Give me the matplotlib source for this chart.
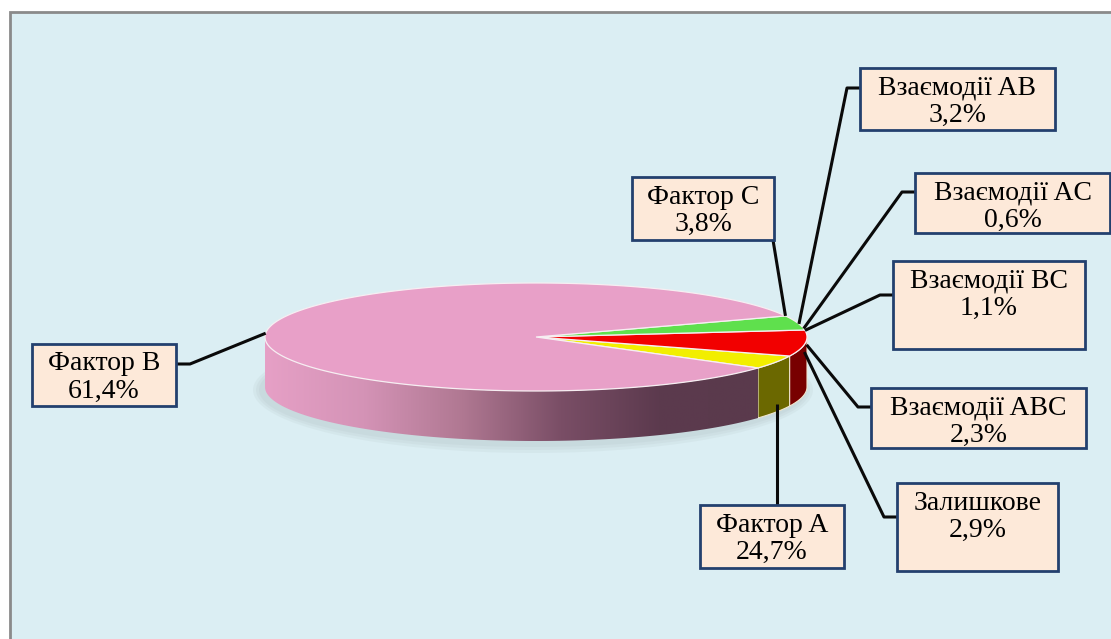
import numpy as np
import matplotlib.pyplot as plt
from matplotlib.patches import Polygon, Rectangle, Ellipse
from matplotlib.colors import LinearSegmentedColormap

# values written in the label boxes
names = ['Фактор A', 'Фактор B', 'Фактор C', 'Взаємодії AB', 'Взаємодії AC',
         'Взаємодії BC', 'Взаємодії ABC', 'Залишкове']
values = [24.7, 61.4, 3.8, 3.2, 0.6, 1.1, 2.3, 2.9]

# the pie as it is actually drawn (shares, counter-clockwise)
slice_share = [4.0, 7.8, 4.3, 83.9]
slice_top = ['#f2ee00', '#f20000', '#5fe04d', '#e8a0c8']
slice_side = ['#6b6800', '#780000', '#2f8a2a', None]   # None -> gradient
start_angle = -35

# pie geometry in pixels
cx, cy, a, b, depth = 536, 337, 271, 54, 50


def rim(t, drop=0.0):
    t = np.radians(t)
    return cx + a * np.cos(t), cy - b * np.sin(t) + drop * depth


fig = plt.figure(figsize=(11.11, 6.39), dpi=100)
ax = fig.add_axes([0, 0, 1, 1])
ax.set_xlim(0, 1111)
ax.set_ylim(639, 0)
ax.axis('off')

# chart area
ax.add_patch(Rectangle((10, 12), 1120, 650, fc='#dbeef3', ec='#8a8a8a', lw=2, zorder=0))

# soft shadow
for k in range(3):
    ax.add_patch(Ellipse((cx - 3, cy + depth + 3), 2 * a + 6 + 6 * k, 2 * b + 6 + 6 * k,
                         fc='#8c9699', ec='none', alpha=0.08, zorder=1))

bounds = start_angle + np.concatenate([[0], np.cumsum(slice_share)]) * 3.6

pink_cmap = LinearSegmentedColormap.from_list(
    'pk', ['#e6a0c6', '#d493b6', '#b07892', '#7a4e66', '#5c3a4e', '#5a3a4c'])

# side walls (front half only)
for i in range(len(slice_share)):
    t1, t2 = bounds[i], bounds[i + 1]
    for k in (0, 360):
        lo, hi = max(t1, -180 + k), min(t2, k)
        if hi <= lo:
            continue
        ts = np.linspace(lo, hi, 120)
        xt, yt = rim(ts)
        xb, yb = rim(ts[::-1], 1.0)
        pts = np.column_stack([np.concatenate([xt, xb]), np.concatenate([yt, yb])])
        if slice_side[i] is None:
            poly = Polygon(pts, closed=True, fc='none', ec='none', zorder=2)
            ax.add_patch(poly)
            grad = np.linspace(0, 1, 256).reshape(1, -1)
            x_left, x_right = cx - a, rim(hi)[0]
            im = ax.imshow(grad, extent=(x_left, x_right, cy + b + depth + 5, cy - b),
                           cmap=pink_cmap, aspect='auto', zorder=2)
            im.set_clip_path(poly)
        else:
            ax.add_patch(Polygon(pts, closed=True, fc=slice_side[i], ec='#f0e6d0',
                                 lw=0.8, zorder=2))

# top faces
for i in range(len(slice_share)):
    ts = np.linspace(bounds[i], bounds[i + 1], 200)
    xt, yt = rim(ts)
    pts = np.column_stack([np.concatenate([[cx], xt]), np.concatenate([[cy], yt])])
    ax.add_patch(Polygon(pts, closed=True, fc=slice_top[i], ec='#f7eef2', lw=0.9, zorder=3))

# label boxes: (x0, y0, x1, y1), connection kind, elbow coordinate, anchor (angle, drop)
layout = {
    'Фактор A': ((700, 505, 844, 568), 'top', None, (-27, 0.85)),
    'Фактор B': ((32, 344, 176, 406), 'right', 364, (176, 0.0)),
    'Фактор C': ((632, 177, 774, 240), 'corner', None, (23, 0.0)),
    'Взаємодії AB': ((860, 68, 1055, 130), 'left', 88, (14, 0.0)),
    'Взаємодії AC': ((915, 173, 1110, 233), 'left', 192, (9, 0.0)),
    'Взаємодії BC': ((893, 261, 1085, 349), 'left', 295, (7, 0.0)),
    'Взаємодії ABC': ((871, 388, 1086, 448), 'left', 407, (-3, 0.1)),
    'Залишкове': ((897, 483, 1058, 571), 'left', 517, (-8, 0.15)),
}

font = dict(family=['Liberation Serif', 'DejaVu Serif'], size=20, color='black')

for name, val in zip(names, values):
    (x0, y0, x1, y1), kind, ey, (ang, drop) = layout[name]
    axp, ayp = rim(ang, drop)
    if kind == 'left':
        lx, ly = [x0, x0 - 13, axp], [ey, ey, ayp]
    elif kind == 'right':
        lx, ly = [x1, x1 + 14, axp], [ey, ey, ayp]
    elif kind == 'corner':
        lx, ly = [x1 - 1, axp], [y1, ayp]
    else:
        lx, ly = [axp, axp], [y0, ayp]
    ax.plot(lx, ly, color='#0a0a0a', lw=2.2, zorder=4, solid_capstyle='butt')
    ax.add_patch(Rectangle((x0, y0), x1 - x0, y1 - y0, fc='#fde9d9', ec='#23406e',
                           lw=2, zorder=5))
    xm = (x0 + x1) / 2
    ax.text(xm, y0 + 20, name, ha='center', va='center', zorder=6, **font)
    ax.text(xm, y0 + 47, f'{val:.1f}'.replace('.', ',') + '%', ha='center',
            va='center', zorder=6, **font)

fig.savefig('out.png', dpi=100)
